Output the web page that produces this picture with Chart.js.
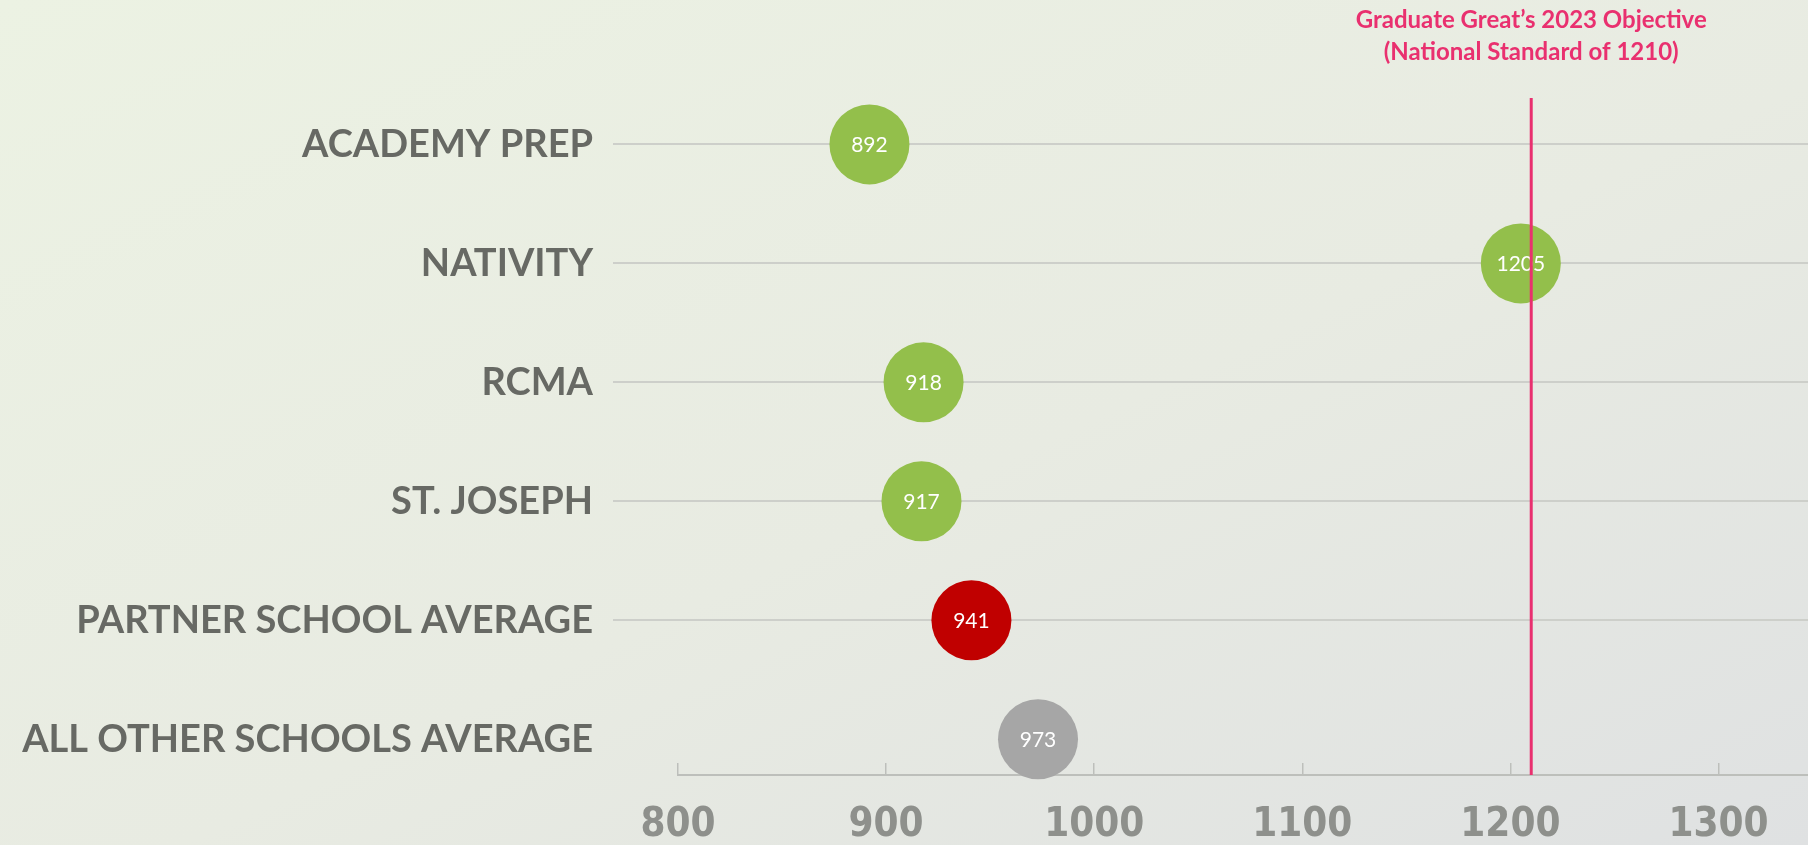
<!DOCTYPE html>
<html>
<head>
<meta charset="utf-8">
<script src="https://cdn.jsdelivr.net/npm/chart.js@4.4.1/dist/chart.umd.min.js"></script>
<style>
  html, body { margin: 0; padding: 0; }
  body {
    width: 1808px; height: 845px; overflow: hidden;
    background: linear-gradient(to bottom right, #ecf2e3 0%, #e8ebe2 55%, #dfe1e2 100%);
  }
  #wrap { position: relative; width: 1808px; height: 845px; }
</style>
</head>
<body>
<div id="wrap"><canvas id="scoreChart"></canvas></div>
<script>
// schools, top to bottom
const schools = ['ACADEMY PREP', 'NATIVITY', 'RCMA', 'ST. JOSEPH', 'PARTNER SCHOOL AVERAGE', 'ALL OTHER SCHOOLS AVERAGE'];
const scores = [892, 1205, 918, 917, 941, 973];
const xTicks = [800, 900, 1000, 1100, 1200, 1300];
const objective = 1210;
const objectiveLines = ['Graduate Great\u2019s 2023 Objective', '(National Standard of 1210)'];

const dotColors = ['#93bf4b', '#93bf4b', '#93bf4b', '#93bf4b', '#c00000', '#a6a6a6'];

const points = scores.map((s, i) => ({ x: s, y: i }));

// white score text inside each dot
const dotLabels = {
    id: 'dotLabels',
    afterDatasetsDraw(chart) {
        const ctx = chart.ctx;
        const meta = chart.getDatasetMeta(0);
        ctx.save();
        ctx.fillStyle = '#ffffff';
        ctx.font = '21px Lato';
        ctx.textAlign = 'center';
        ctx.textBaseline = 'middle';
        meta.data.forEach((el, i) => {
            ctx.fillText(String(scores[i]), el.x, el.y + 1);
        });
        ctx.restore();
    }
};

// pink objective line + caption
const objectiveLine = {
    id: 'objectiveLine',
    afterDraw(chart) {
        const ctx = chart.ctx;
        const area = chart.chartArea;
        const x = chart.scales.x.getPixelForValue(objective);
        ctx.save();
        ctx.strokeStyle = '#e9306f';
        ctx.lineWidth = 3;
        ctx.beginPath();
        ctx.moveTo(x, area.top);
        ctx.lineTo(x, area.bottom);
        ctx.stroke();
        ctx.fillStyle = '#e9306f';
        ctx.font = 'bold 24px Lato';
        ctx.textAlign = 'center';
        ctx.textBaseline = 'middle';
        ctx.fillText(objectiveLines[0], x, area.top - 78);
        ctx.fillText(objectiveLines[1], x, area.top - 46);
        ctx.restore();
    }
};

new Chart(document.getElementById('scoreChart'), {
    type: 'scatter',
    data: {
        datasets: [{
            data: points,
            backgroundColor: dotColors,
            borderWidth: 0,
            pointRadius: 40,
            pointHoverRadius: 40,
            clip: false
        }]
    },
    options: {
        responsive: true,
        maintainAspectRatio: false,
        animation: false,
        events: [],
        layout: { autoPadding: false, padding: { top: 98, left: 0, right: 0, bottom: 0 } },
        plugins: {
            legend: { display: false },
            tooltip: { enabled: false }
        },
        scales: {
            x: {
                type: 'linear',
                min: 800,
                max: 1343,
                afterFit: s => { s.height = 70; s.paddingLeft = 0; s.paddingRight = 0; },
                afterBuildTicks: s => { s.ticks = xTicks.map(v => ({ value: v })); },
                border: { color: '#bdbfbb', width: 2 },
                grid: { drawOnChartArea: false, drawTicks: true, tickLength: -12, color: '#bdbfbb', lineWidth: 1.5 },
                ticks: {
                    padding: 39,
                    color: '#8e908c',
                    font: { family: 'DejaVu Sans Condensed', weight: 'bold', size: 40 },
                    callback: v => String(v)
                }
            },
            y: {
                type: 'linear',
                reverse: true,
                min: -0.39,
                max: 5.3,
                afterFit: s => { s.width = 678; },
                afterBuildTicks: s => { s.ticks = schools.map((n, i) => ({ value: i })); },
                border: { display: false },
                grid: {
                    color: c => (c.tick && c.tick.value === 5) ? 'rgba(0,0,0,0)' : '#cdcfca',
                    lineWidth: 2,
                    tickLength: 65
                },
                ticks: {
                    padding: 20,
                    autoSkip: false,
                    color: '#676964',
                    font: { family: 'Lato', weight: 'bold', size: 38 },
                    callback: v => schools[v] || ''
                }
            }
        }
    },
    plugins: [dotLabels, objectiveLine]
});
</script>
</body>
</html>
